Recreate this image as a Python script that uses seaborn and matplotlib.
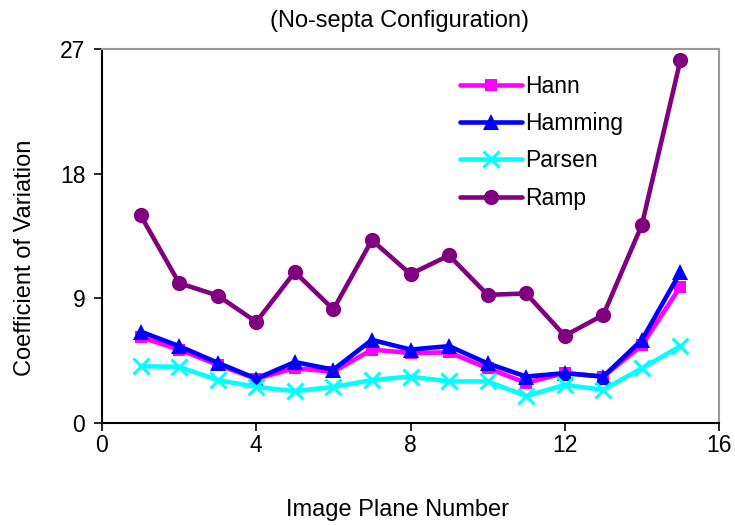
import numpy as np
import pandas as pd
import seaborn as sns
import matplotlib
matplotlib.use("Agg")
import matplotlib.pyplot as plt

planes = list(range(1, 16))
hann = [6.2, 5.3, 4.2, 3.2, 3.95, 3.7, 5.3, 5.05, 5.1, 3.95, 2.9, 3.6, 3.35, 5.6, 9.85]
hamming = [6.6, 5.55, 4.35, 3.2, 4.4, 3.85, 6.0, 5.3, 5.55, 4.3, 3.35, 3.6, 3.35, 6.0, 10.9]
parsen = [4.1, 4.05, 3.1, 2.6, 2.3, 2.6, 3.1, 3.35, 3.0, 3.0, 1.95, 2.75, 2.4, 3.95, 5.55]
ramp = [15.0, 10.1, 9.2, 7.3, 10.9, 8.2, 13.2, 10.75, 12.1, 9.25, 9.35, 6.3, 7.8, 14.3, 26.2]
series_names = ["Hann", "Hamming", "Parsen", "Ramp"]
x_ticks = [0, 4, 8, 12, 16]
y_ticks = [0, 9, 18, 27]

df = pd.DataFrame({"Plane": planes * 4,
                   "CV": hann + hamming + parsen + ramp,
                   "Filter": sum([[n] * len(planes) for n in series_names], [])})

sns.set_style("white")
plt.rcParams["font.family"] = ["Liberation Sans", "DejaVu Sans"]
plt.rcParams["text.color"] = "black"
plt.rcParams["axes.labelcolor"] = "black"
plt.rcParams["xtick.color"] = "black"
plt.rcParams["ytick.color"] = "black"

fig = plt.figure(figsize=(7.35, 5.25), dpi=100)
ax = fig.add_axes([102 / 735, 1 - 423 / 525, (719 - 102) / 735, (423 - 49) / 525])

palette = {"Hann": "#FF00FF", "Hamming": "#0000FF", "Parsen": "#00FFFF", "Ramp": "#800080"}
markers = {"Hann": "s", "Hamming": "^", "Parsen": "x", "Ramp": "o"}
sizes = {"Hann": 9, "Hamming": 11, "Parsen": 12, "Ramp": 11}
for name in series_names:
    sub = df[df["Filter"] == name]
    sns.lineplot(data=sub, x="Plane", y="CV", ax=ax, color=palette[name],
                 marker=markers[name], markersize=sizes[name], linewidth=3.3,
                 markeredgewidth=2.2 if name == "Parsen" else 0,
                 markeredgecolor=palette[name], label=name)

ax.set_xlim(0, 16)
ax.set_ylim(0, 27)
ax.set_xticks(x_ticks)
ax.set_yticks(y_ticks)
ax.tick_params(axis="both", which="major", direction="out", length=6, width=1.2,
               labelsize=16.5, bottom=True, left=True)
ax.tick_params(axis="x", pad=2)
ax.tick_params(axis="y", pad=6)
for s in ["left", "bottom"]:
    ax.spines[s].set_color("black")
    ax.spines[s].set_linewidth(1.5)
for s in ["top", "right"]:
    ax.spines[s].set_color("#999999")
    ax.spines[s].set_linewidth(1.5)

ax.set_xlabel("Image Plane Number", fontsize=17)
ax.xaxis.set_label_coords((398 - 102) / 617, (423 - 499) / 374)
ax.set_ylabel("Coefficient of Variation", fontsize=17)
ax.yaxis.set_label_coords((36 - 102) / 617, (423 - 258) / 374)
ax.text((399 - 102) / 617, (423 - 21) / 374, "(No-septa Configuration)", fontsize=17,
        ha="center", va="center", transform=ax.transAxes)

leg = ax.legend(loc="upper left", bbox_to_anchor=((460 - 102) / 617, (423 - 75) / 374),
                frameon=False, fontsize=16.5, handlelength=2.7, handletextpad=0.15,
                labelspacing=0.62, borderpad=0, borderaxespad=0)

fig.savefig("out.png", dpi=100)
